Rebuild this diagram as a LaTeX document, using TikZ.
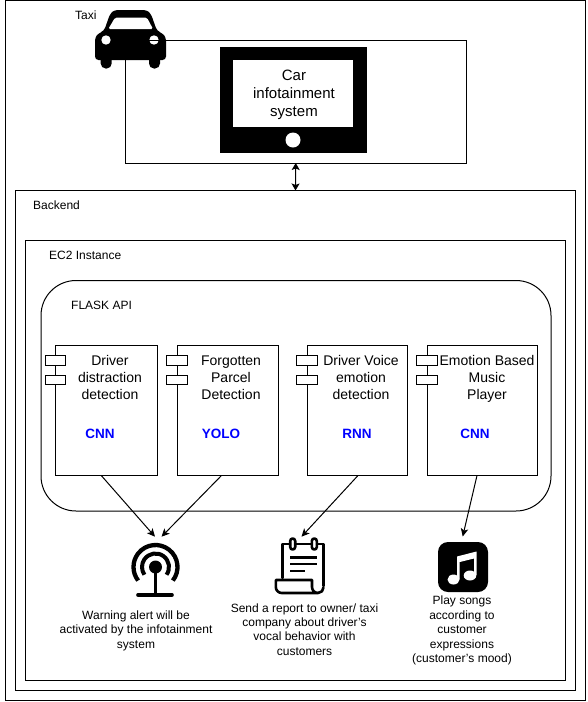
\documentclass[tikz,border=0pt]{standalone}
\usepackage{fontspec}
\setmainfont{Liberation Sans}
\usetikzlibrary{arrows.meta}
\tikzset{
  frame/.style={draw=black,line width=1pt,inner sep=0pt,outer sep=0pt,fill=none},
  comp/.style={frame,fill=white},
  tab/.style={frame,fill=white,minimum width=20.3pt,minimum height=9.6pt},
  boxlabel/.style={anchor=west,inner sep=0pt,font=\fontsize{12}{14}\selectfont},
  comptext/.style={align=center,inner sep=0pt,font=\fontsize{14}{17}\selectfont},
  algo/.style={inner sep=0pt,text=blue,font=\fontsize{13.5}{16}\bfseries\selectfont},
  caption/.style={align=center,inner sep=0pt,font=\fontsize{12}{14.4}\selectfont},
  flow/.style={draw=black,line width=1pt,-{Stealth[length=8pt,width=7.5pt,inset=2pt]}},
  both/.style={draw=black,line width=1pt,{Stealth[length=7pt,width=8pt,inset=1.5pt]}-{Stealth[length=7pt,width=8pt,inset=1.5pt]}},
  icon/.style={line width=2.6pt,line cap=round,line join=round,draw=black}
}
\newcommand{\boxat}[6][frame]{\node[#1,minimum width=#5pt - #3pt,minimum height=#6pt - #4pt] (#2) at ({(#3+#5)/2},{(#4+#6)/2}) {};}
\begin{document}
\begin{tikzpicture}[x=1pt,y=-1pt]
\useasboundingbox (0,0) rectangle (587,702);
\fill[white] (0,0) rectangle (587,702);
% frames
\boxat{outer}{5.5}{0.5}{585.5}{700.5}
\boxat{backend}{15.5}{190.5}{575.5}{690.5}
\boxat{ec}{25.5}{240.5}{565.5}{680.5}
\node[frame,rounded corners=35pt,minimum width=510pt,minimum height=230.5pt] (flask) at (296,395.75) {};
% car
\fill[black,rounded corners=3.5pt] (95,60) -- (95,37) -- (99,33) -- (104,31) -- (110,14) -- (114,10) -- (147,10) -- (151,14) -- (157,31) -- (162,33) -- (166,37) -- (166,60) -- cycle;
\fill[black,rounded corners=5pt] (100.7,55) rectangle (111.7,68.5);
\fill[black,rounded corners=5pt] (149,55) rectangle (160,68.5);
\fill[white,rounded corners=1.5pt] (108.3,29) -- (115,17.7) -- (147,17.7) -- (153,29) -- cycle;
\fill[white] (106,40) circle[radius=4.7pt];
\fill[white] (154,40) circle[radius=4.7pt];
% taxi box
\boxat{taxi}{125.5}{40.5}{466}{163}
% tablet
\fill[black] (220,47) rectangle (367,153);
\node[fill=white,inner sep=0pt,outer sep=0pt,minimum width=120pt,minimum height=66.7pt] (screen) at (293,93.3) {};
\fill[white] (293,140) circle[radius=7.5pt];
\node[align=center,inner sep=0pt,font=\fontsize{15}{18}\selectfont] (cartext) at (294,94.5) {Car\\infotainment\\system};
% labels
\node[boxlabel] (taxilabel) at (75,15.5) {Taxi};
\node[boxlabel] (backendlabel) at (33,205.5) {Backend};
\node[boxlabel] (eclabel) at (49,255.5) {EC2 Instance};
\node[boxlabel] (flasklabel) at (71,305.5) {FLASK API};
% components
\boxat[comp]{c1}{55.5}{345.5}{157}{475.5}
\boxat[comp]{c2}{177}{345.5}{278}{475.5}
\boxat[comp]{c3}{307}{345.5}{407}{475.5}
\boxat[comp]{c4}{427}{345.5}{537}{475.5}
\node[tab] (t1a) at (55.5,360.5) {};
\node[tab] (t1b) at (55.5,380) {};
\node[tab] (t2a) at (177,360.5) {};
\node[tab] (t2b) at (177,380) {};
\node[tab] (t3a) at (307,360.5) {};
\node[tab] (t3b) at (307,380) {};
\node[tab] (t4a) at (427,360.5) {};
\node[tab] (t4b) at (427,380) {};
\node[comptext] (c1t) at (110,377) {Driver\\distraction\\detection};
\node[comptext] (c2t) at (231,377.5) {Forgotten\\Parcel\\Detection};
\node[comptext] (c3t) at (361,377) {Driver Voice\\emotion\\detection};
\node[comptext] (c4t) at (487,378.5) {Emotion Based\\Music\\Player};
\node[algo] (a1) at (100,433.5) {CNN};
\node[algo] (a2) at (221,433.5) {YOLO};
\node[algo] (a3) at (357,433.5) {RNN};
\node[algo] (a4) at (475,433.5) {CNN};
% antenna icon
\coordinate (ant) at (155.5,567);
\draw[icon,line width=4.3pt,line cap=butt] ([shift=(-38:22pt)]ant) arc[start angle=-38,end angle=218,radius=22pt];
\draw[icon,line width=4pt,line cap=butt] ([shift=(-35:13.5pt)]ant) arc[start angle=-35,end angle=215,radius=13.5pt];
\fill[black] (ant) circle[radius=6.5pt];
\draw[icon,line width=3.5pt,line cap=butt] (ant) -- (155.5,595);
\draw[icon,line width=3.6pt] (138,595) -- (172,595);
% document icon
\draw[icon] (282.7,578) -- (282.7,544) -- (290,544);
\draw[icon] (295.5,544) -- (311.5,544);
\draw[icon] (317,544) -- (323.5,544) -- (323.5,586);
\draw[icon] (290.2,541) arc[start angle=180,end angle=0,radius=2.5pt] -- (295.2,547) arc[start angle=0,end angle=-180,radius=2.5pt] -- cycle;
\draw[icon] (311.8,541) arc[start angle=180,end angle=0,radius=2.5pt] -- (316.8,547) arc[start angle=0,end angle=-180,radius=2.5pt] -- cycle;
\draw[icon,line cap=butt] (290,557.3) -- (317,557.3);
\draw[icon,line cap=butt] (290,564) -- (317,564);
\draw[icon,line cap=butt] (290,571) -- (305,571);
\draw[icon] (312,580) -- (275.8,580) -- (275.8,587) arc[start angle=180,end angle=270,radius=6pt] -- (318,593) arc[start angle=270,end angle=180,radius=6pt] -- (312,580);
\draw[icon] (318,593) arc[start angle=-90,end angle=0,radius=5.5pt];
% music icon
\fill[black,rounded corners=10pt] (438,542) rectangle (488,592);
\fill[white] (457,579) -- (457,556.5) -- (476.5,551.5) -- (476.5,575) -- (474,575) -- (474,558.5) -- (459.7,562) -- (459.7,579) -- cycle;
\fill[white] (453.5,579.5) ellipse[x radius=6pt,y radius=5pt];
\fill[white] (470,575.5) ellipse[x radius=6.3pt,y radius=5pt];
% captions
\node[caption] (capa) at (136,630.5) {Warning alert will be\\activated by the infotainment\\system};
\node[caption] (capb) at (304.5,629.5) {Send a report to owner/ taxi\\company about driver's\\vocal behavior with\\customers};
\node[caption] (capc) at (462,630.5) {Play songs\\according to\\customer\\expressions\\(customer's mood)};
% connectors
\coordinate (in1) at (155,536.7);
\coordinate (in2) at (161.5,536.7);
\coordinate (in3) at (301.5,536.7);
\coordinate (in4) at (462.7,536.5);
\draw[flow] ([xshift=-5pt]c1.south) -- (in1);
\draw[flow] ([xshift=-6pt]c2.south) -- (in2);
\draw[flow] ([xshift=1pt]c3.south) -- (in3);
\draw[flow] ([xshift=-5pt]c4.south) -- (in4);
\draw[both] (taxi.south) -- (backend.north);
\end{tikzpicture}
\end{document}
